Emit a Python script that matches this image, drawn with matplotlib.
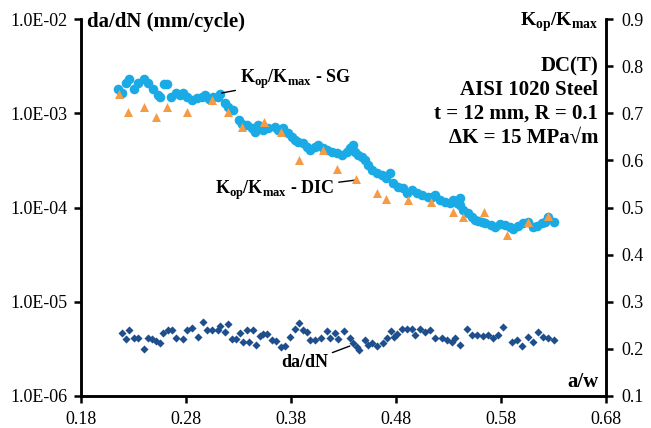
import matplotlib
matplotlib.use("Agg")
import matplotlib.pyplot as plt
from matplotlib.ticker import FixedLocator, NullLocator

plt.rcParams['font.family'] = ['Liberation Serif', 'DejaVu Serif']
plt.rcParams['mathtext.fontset'] = 'custom'
plt.rcParams['mathtext.rm'] = 'Liberation Serif:bold'
plt.rcParams['mathtext.bf'] = 'Liberation Serif:bold'

# ---------------- data ----------------
sg_aw = [0.215, 0.219, 0.223, 0.226, 0.230, 0.234, 0.240, 0.244, 0.249, 0.253, 0.255, 0.259, 0.262,
         0.266, 0.270, 0.274, 0.277, 0.281, 0.286, 0.290, 0.295, 0.298, 0.302, 0.306, 0.310, 0.312,
         0.317, 0.320, 0.325, 0.330, 0.333, 0.338, 0.343, 0.346, 0.349, 0.353, 0.358, 0.365, 0.368,
         0.372, 0.377, 0.381, 0.384, 0.387, 0.391, 0.395, 0.398, 0.403, 0.406, 0.410, 0.414, 0.419,
         0.424, 0.429, 0.433, 0.436, 0.439, 0.441, 0.444, 0.448, 0.450, 0.453, 0.457, 0.462, 0.467,
         0.470, 0.474, 0.477, 0.482, 0.487, 0.490, 0.495, 0.500, 0.505, 0.510, 0.514, 0.517, 0.522,
         0.527, 0.531, 0.534, 0.538, 0.541, 0.541, 0.544, 0.549, 0.552, 0.555, 0.558, 0.562, 0.565,
         0.570, 0.574, 0.579, 0.584, 0.589, 0.591, 0.596, 0.601, 0.606, 0.610, 0.614, 0.619, 0.622,
         0.625, 0.630]
sg_k = [0.751, 0.743, 0.764, 0.773, 0.751, 0.764, 0.773, 0.764, 0.751, 0.739, 0.734, 0.762, 0.762,
        0.734, 0.743, 0.739, 0.743, 0.734, 0.728, 0.732, 0.734, 0.739, 0.730, 0.734, 0.734, 0.741,
        0.722, 0.713, 0.707, 0.686, 0.677, 0.675, 0.669, 0.660, 0.675, 0.664, 0.669, 0.671, 0.664,
        0.669, 0.658, 0.649, 0.643, 0.639, 0.637, 0.628, 0.622, 0.628, 0.632, 0.626, 0.622, 0.618,
        0.616, 0.611, 0.618, 0.626, 0.632, 0.618, 0.611, 0.607, 0.601, 0.590, 0.579, 0.573, 0.569,
        0.562, 0.573, 0.552, 0.543, 0.541, 0.531, 0.537, 0.531, 0.526, 0.522, 0.522, 0.526, 0.516,
        0.511, 0.509, 0.516, 0.509, 0.520, 0.505, 0.494, 0.488, 0.480, 0.473, 0.471, 0.469, 0.467,
        0.463, 0.458, 0.465, 0.463, 0.458, 0.454, 0.461, 0.467, 0.469, 0.458, 0.461, 0.467, 0.469,
        0.480, 0.469]

dic_aw = [0.216, 0.225, 0.240, 0.251, 0.262, 0.281, 0.305, 0.320, 0.333, 0.354, 0.370, 0.388, 0.410,
          0.424, 0.442, 0.462, 0.470, 0.491, 0.513, 0.534, 0.544, 0.564, 0.586, 0.606, 0.625]
dic_k = [0.741, 0.703, 0.713, 0.692, 0.713, 0.703, 0.728, 0.703, 0.671, 0.681, 0.660, 0.601, 0.622,
         0.582, 0.560, 0.531, 0.518, 0.516, 0.511, 0.490, 0.480, 0.490, 0.441, 0.469, 0.482]

dadn_aw = [0.219, 0.223, 0.226, 0.230, 0.234, 0.240, 0.244, 0.248, 0.251, 0.255, 0.258, 0.263, 0.267,
           0.270, 0.277, 0.281, 0.286, 0.291, 0.296, 0.300, 0.305, 0.310, 0.312, 0.317, 0.320, 0.324,
           0.328, 0.331, 0.334, 0.338, 0.340, 0.344, 0.347, 0.350, 0.353, 0.357, 0.362, 0.366, 0.370,
           0.374, 0.379, 0.384, 0.388, 0.391, 0.395, 0.398, 0.403, 0.409, 0.414, 0.417, 0.422, 0.425,
           0.430, 0.436, 0.439, 0.443, 0.445, 0.450, 0.453, 0.457, 0.462, 0.468, 0.471, 0.475, 0.478,
           0.481, 0.486, 0.490, 0.495, 0.498, 0.503, 0.508, 0.512, 0.517, 0.524, 0.529, 0.533, 0.536,
           0.541, 0.548, 0.552, 0.557, 0.563, 0.568, 0.572, 0.577, 0.582, 0.590, 0.595, 0.600, 0.606,
           0.610, 0.615, 0.620, 0.625, 0.630]
dadn_e6 = [4.66, 4.02, 5.01, 4.12, 4.12, 3.15, 4.12, 4.02, 3.83, 3.65, 4.66, 5.01, 5.01,
           4.12, 4.02, 5.01, 5.26, 4.22, 6.10, 5.01, 5.01, 5.01, 5.52, 4.77, 5.80, 4.02,
           4.02, 4.66, 3.74, 5.01, 3.74, 5.01, 3.47, 4.33, 4.54, 4.54, 3.92, 3.83, 3.31,
           3.39, 4.22, 5.14, 5.94, 5.01, 4.77, 3.92, 3.92, 4.12, 4.89, 4.12, 4.66, 4.02,
           4.89, 4.12, 3.65, 3.31, 3.07, 3.92, 3.47, 3.65, 3.39, 3.65, 4.12, 4.89, 4.22,
           4.54, 5.14, 5.14, 5.14, 4.43, 5.14, 4.77, 5.01, 4.12, 4.12, 3.92, 3.74, 4.12,
           3.47, 5.14, 4.43, 4.43, 4.33, 4.43, 4.12, 4.43, 5.39, 3.74, 3.92, 3.39, 4.22,
           3.74, 4.77, 4.22, 4.12, 3.92]
dadn = [v * 1e-6 for v in dadn_e6]

x_ticks = [0.18, 0.28, 0.38, 0.48, 0.58, 0.68]
left_ticks = [1e-6, 1e-5, 1e-4, 1e-3, 1e-2]
left_labels = ["1.0E-06", "1.0E-05", "1.0E-04", "1.0E-03", "1.0E-02"]
right_ticks = [0.1, 0.2, 0.3, 0.4, 0.5, 0.6, 0.7, 0.8, 0.9]

# ---------------- figure ----------------
fig = plt.figure(figsize=(6.51, 4.28), dpi=100)
ax = fig.add_axes([81/651, 1-396/428, 525/651, 377/428])
ax2 = ax.twinx()

ax.set_yscale('log')
ax.set_ylim(1e-6, 1e-2)
ax.set_xlim(0.18, 0.68)
ax2.set_ylim(0.1, 0.9)

ax.scatter(dadn_aw, dadn, marker='D', s=17, color='#1F4E8C', linewidths=0, zorder=3)
ax2.scatter(sg_aw, sg_k, marker='o', s=48, color='#1AABE6', linewidths=0, zorder=3)
ax2.scatter(dic_aw, dic_k, marker='^', s=42, color='#F59A45', linewidths=0, zorder=4)

ax.yaxis.set_major_locator(FixedLocator(left_ticks))
ax.yaxis.set_minor_locator(NullLocator())
ax.set_yticks(left_ticks)
ax.set_yticklabels(left_labels)
ax.set_xticks(x_ticks)
ax.set_xticklabels([f"{t:.2f}" for t in x_ticks])
ax2.set_yticks(right_ticks)
ax2.set_yticklabels([f"{t:.1f}" for t in right_ticks])

for a in (ax, ax2):
    a.spines['top'].set_visible(False)
    for s in ('left', 'right', 'bottom'):
        a.spines[s].set_linewidth(1.8)
ax.tick_params(axis='both', which='major', direction='out', length=5, width=1.8,
               labelsize=13, pad=4)
ax.tick_params(axis='x', pad=5.5)
ax.tick_params(axis='y', pad=5)
ax2.tick_params(axis='y', which='major', direction='out', length=5, width=1.8,
                labelsize=13, pad=6)

bold = dict(fontweight='bold', fontsize=15)
ax2.text(0.012, 0.992, "da/dN (mm/cycle)", transform=ax2.transAxes, ha='left', va='center', **bold)
ax2.text(0.985, 0.992, r"K$_{\mathregular{op}}$/K$_{\mathregular{max}}$", transform=ax2.transAxes,
         ha='right', va='center', fontweight='bold', fontsize=14)
info = ["DC(T)", "AISI 1020 Steel", "t = 12 mm, R = 0.1", "ΔK = 15 MPa√m"]
for i, line in enumerate(info):
    ax2.text(0.985, 0.8753 - i * 0.0637, line, transform=ax2.transAxes, ha='right', va='center', **bold)
ax2.text(0.985, 0.037, "a/w", transform=ax2.transAxes, ha='right', va='center', **bold)

arrow = dict(arrowstyle='-', color='black', lw=1, shrinkA=1, shrinkB=0)
ax2.annotate(r"K$_{\mathregular{op}}$/K$_{\mathregular{max}}$ - SG", xy=(0.314, 0.743),
             xytext=(0.331, 0.772), ha='left', va='center', fontweight='bold', fontsize=13,
             arrowprops=arrow)
ax2.annotate(r"K$_{\mathregular{op}}$/K$_{\mathregular{max}}$ - DIC", xy=(0.441, 0.558),
             xytext=(0.4215, 0.537), ha='right', va='center', fontweight='bold', fontsize=13,
             arrowprops=arrow)
ax.annotate("da/dN", xy=(0.436, 3.39e-6), xytext=(0.4155, 2.24e-6), ha='right', va='center',
            fontweight='bold', fontsize=13, arrowprops=arrow)

fig.savefig("out.png", dpi=100)
